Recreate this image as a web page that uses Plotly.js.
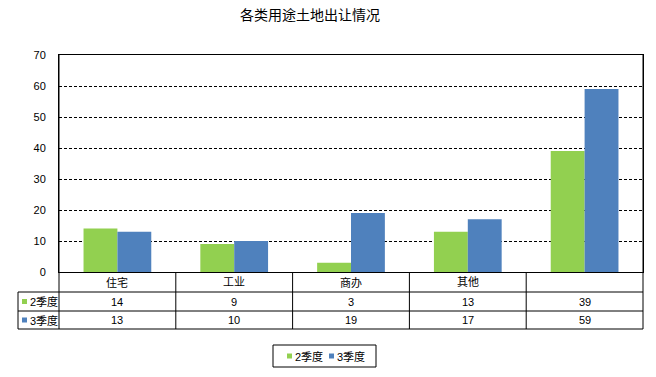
<!DOCTYPE html>
<html><head><meta charset="utf-8">
<script src="https://cdn.plot.ly/plotly-3.0.1.min.js"></script>
<style>html,body{margin:0;padding:0;background:#fff;}#chart{width:656px;height:377px;}</style>
</head><body><div id="chart"></div>
<script>
// ---- data ----
const categories = ["住宅", "工业", "商办", "其他", ""];
const seriesNames = ["2季度", "3季度"];
const q2 = [14, 9, 3, 13, 39];
const q3 = [13, 10, 19, 17, 59];
const seriesColors = ["#92D050", "#4F81BD"];
const yTicks = [0, 10, 20, 30, 40, 50, 60, 70];

// ---- layout geometry (pixels) ----
const W = 656, H = 377;
const L = 59, R = 643, T = 55, B = 272;
const px = x => (x - L) / (R - L);
const py = y => (B - y) / (B - T);
const FONT = '"Liberation Sans", Arial, "Noto Sans CJK SC", sans-serif';
const idx = categories.map((c, i) => i);
const seriesVals = [q2, q3];

const traces = seriesVals.map((vals, s) => ({
  type: 'bar', x: idx, y: vals, name: seriesNames[s],
  marker: {color: seriesColors[s], line: {width: 0}},
  hoverinfo: 'skip'
}));

const shapes = [];
const annotations = [];
const line = (x0, y0, x1, y1, xref) => shapes.push({type: 'line', xref: xref || 'paper', yref: 'paper',
  x0: x0, y0: y0, x1: x1, y1: y1, line: {color: '#000', width: 1}});

// table rows (horizontal)
const rowLines = [292, 311, 329];
rowLines.forEach(y => line(px(18), py(y), px(R), py(y)));
// left label column edge
line(px(18), py(292), px(18), py(329));
// outer vertical lines (plot borders extended)
line(px(L), py(T), px(L), py(329));
line(px(R), py(T), px(R), py(329));
// column boundaries between categories
for (let i = 0; i < categories.length - 1; i++) {
  shapes.push({type: 'line', xref: 'x', yref: 'paper', x0: i + 0.5, x1: i + 0.5,
    y0: py(B), y1: py(329), line: {color: '#000', width: 1}});
}
// category labels
categories.forEach((c, i) => annotations.push({xref: 'x', yref: 'paper', x: i, y: py(282),
  text: c, showarrow: false, font: {size: 11, color: '#000', family: FONT}, yanchor: 'middle'}));
// series rows
const rowCenters = [301.5, 320];
seriesVals.forEach((vals, s) => {
  const yc = rowCenters[s];
  vals.forEach((v, i) => annotations.push({xref: 'x', yref: 'paper', x: i, y: py(yc),
    text: String(v), showarrow: false, font: {size: 11, color: '#000', family: FONT}, yanchor: 'middle'}));
  shapes.push({type: 'rect', xref: 'paper', yref: 'paper', x0: px(22), x1: px(27),
    y0: py(yc - 2.5), y1: py(yc + 2.5), fillcolor: seriesColors[s], line: {width: 0}});
  annotations.push({xref: 'paper', yref: 'paper', x: px(27.5), y: py(yc), xanchor: 'left', yanchor: 'middle',
    text: seriesNames[s], showarrow: false, font: {size: 11, color: '#000', family: FONT}});
});
// legend box
shapes.push({type: 'rect', xref: 'paper', yref: 'paper', x0: px(273), x1: px(376),
  y0: py(345), y1: py(367), line: {color: '#000', width: 1}, fillcolor: 'rgba(0,0,0,0)'});
const legX = [287, 329];
seriesNames.forEach((n, s) => {
  shapes.push({type: 'rect', xref: 'paper', yref: 'paper', x0: px(legX[s]), x1: px(legX[s] + 5),
    y0: py(356 - 2.5), y1: py(356 + 2.5), fillcolor: seriesColors[s], line: {width: 0}});
  annotations.push({xref: 'paper', yref: 'paper', x: px(legX[s] + 5.5), y: py(356), xanchor: 'left', yanchor: 'middle',
    text: n, showarrow: false, font: {size: 11, color: '#000', family: FONT}});
});

const layout = {
  width: W, height: H,
  margin: {l: L, r: W - R, t: T, b: H - B, pad: 0},
  paper_bgcolor: '#fff', plot_bgcolor: '#fff',
  showlegend: false,
  barmode: 'group', bargap: 0.42, bargroupgap: 0,
  font: {family: FONT, size: 11, color: '#000'},
  title: {text: '各类用途土地出让情况', x: 310 / W, xanchor: 'center', y: 1 - 15 / H, yanchor: 'middle', yref: 'container',
    font: {size: 14, color: '#000', family: FONT}},
  xaxis: {range: [-0.5, categories.length - 0.5], showticklabels: false, ticks: '', showgrid: false,
    zeroline: false, showline: true, linecolor: '#000', linewidth: 1, mirror: true, fixedrange: true},
  yaxis: {range: [0, 70], tickvals: yTicks, ticktext: yTicks.map(String), ticks: '', ticklabelstandoff: 10,
    showgrid: true, gridcolor: '#000', gridwidth: 1, griddash: '3px,2px',
    zeroline: true, zerolinecolor: '#000', zerolinewidth: 1,
    showline: true, linecolor: '#000', linewidth: 1, mirror: true,
    tickfont: {size: 11, color: '#000', family: FONT}, fixedrange: true},
  shapes: shapes, annotations: annotations
};
Plotly.newPlot('chart', traces, layout, {displayModeBar: false, staticPlot: true});
</script></body></html>
